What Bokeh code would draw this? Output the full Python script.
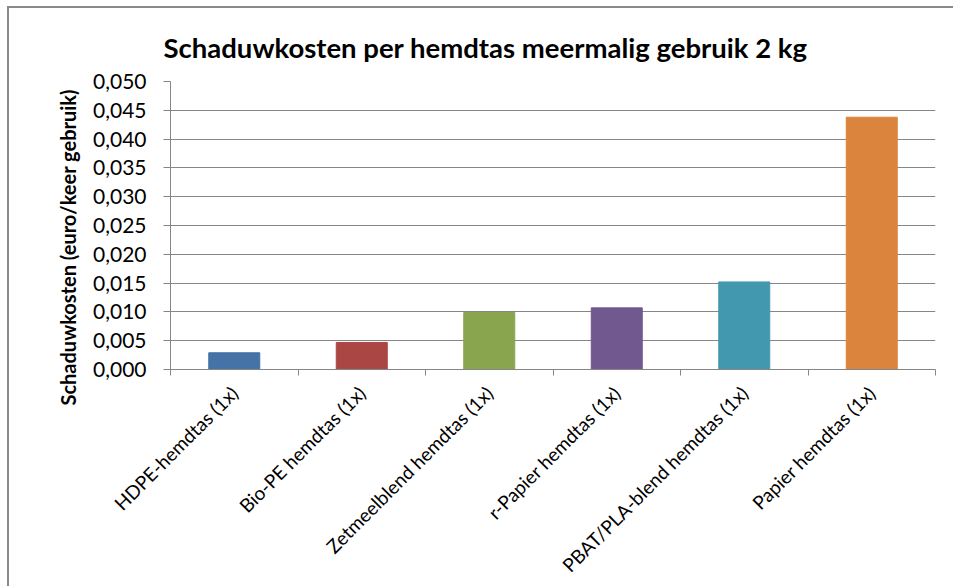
import math
from bokeh.plotting import figure
from bokeh.models import (ColumnDataSource, FixedTicker, CustomJSTickFormatter, Range1d,
                          LinearAxis, Title)
from bokeh.embed import file_html
from bokeh.resources import INLINE

# ---- data ----
categories = ["HDPE-hemdtas (1x)", "Bio-PE hemdtas (1x)", "Zetmeelblend hemdtas (1x)",
              "r-Papier hemdtas (1x)", "PBAT/PLA-blend hemdtas (1x)", "Papier hemdtas (1x)"]
values = [0.0029, 0.0047, 0.0099, 0.0107, 0.0152, 0.0438]
colors = ["#4572A7", "#AA4643", "#89A54E", "#71588F", "#4198AF", "#DB843D"]
y_ticks = [0.0, 0.005, 0.01, 0.015, 0.02, 0.025, 0.03, 0.035, 0.04, 0.045, 0.05]
title_text = "Schaduwkosten per hemdtas meermalig gebruik 2 kg"
y_label = "Schaduwkosten (euro/keer gebruik)"

n = len(categories)
centers = [i + 0.5 for i in range(n)]
bounds = list(range(n + 1))
src = ColumnDataSource(dict(x=centers, val=values, color=colors))

p = figure(x_range=Range1d(0, n), y_range=Range1d(0, 0.05),
           width=946, height=580, output_backend="svg", toolbar_location=None,
           x_axis_location=None, y_axis_location="left",
           min_border_left=161, min_border_right=20, min_border_top=73, min_border_bottom=219)
p.styles = {"margin-left": "7px", "margin-top": "6px",
            "border-left": "2px solid #8a8a8a", "border-top": "2px solid #8a8a8a"}

p.vbar(x="x", top="val", width=0.40, color="color", line_color="color", source=src)

# y axis
ya = p.yaxis[0]
ya.ticker = FixedTicker(ticks=y_ticks)
ya.formatter = CustomJSTickFormatter(code="return tick.toFixed(3).replace('.', ',');")
ya.major_label_text_font = "Lato"
ya.major_label_text_font_size = "21px"
ya.major_label_text_color = "#000000"
ya.major_tick_in = 0
ya.major_tick_out = 7
ya.minor_tick_line_color = None
ya.major_tick_line_color = "#868686"
ya.axis_line_color = "#868686"
ya.major_label_standoff = 17

# x axis: labels at centres, boundary ticks as minor ticks
xa = LinearAxis(ticker=FixedTicker(ticks=centers, minor_ticks=bounds),
                formatter=CustomJSTickFormatter(args=dict(cats=categories),
                                                code="return cats[Math.floor(tick)];"))
xa.axis_line_color = "#868686"
xa.major_tick_line_color = None
xa.major_tick_in = 0
xa.major_tick_out = 0
xa.minor_tick_line_color = "#868686"
xa.minor_tick_in = 0
xa.minor_tick_out = 6
xa.major_label_orientation = math.pi / 4
xa.major_label_text_font = "Lato"
xa.major_label_text_font_size = "19px"
xa.major_label_text_color = "#000000"
xa.major_label_standoff = 14
p.add_layout(xa, "below")

p.xgrid.grid_line_color = None
p.ygrid.ticker = FixedTicker(ticks=y_ticks)
p.ygrid.grid_line_color = "#868686"
p.ygrid.grid_line_width = 1
p.outline_line_color = None

p.add_layout(Title(text=title_text, align="left", offset=-7, standoff=36,
                   text_font="Lato", text_font_style="bold", text_font_size="27.5px",
                   text_color="#000000"), "above")
p.add_layout(Title(text=y_label, align="left", offset=-36, standoff=22,
                   text_font="Lato", text_font_style="bold", text_font_size="20px",
                   text_color="#000000"), "left")

open("out.html", "w").write(file_html(p, INLINE))
